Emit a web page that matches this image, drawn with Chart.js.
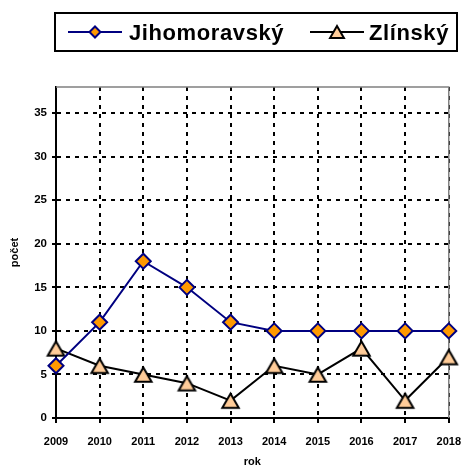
<!DOCTYPE html>
<html>
<head>
<meta charset="utf-8">
<script src="https://cdn.jsdelivr.net/npm/chart.js@4/dist/chart.umd.min.js"></script>
<style>
html,body{margin:0;padding:0;background:#fff;}
#wrap{width:473px;height:475px;position:relative;}
</style>
</head>
<body>
<div id="wrap"><canvas id="c" width="473" height="475"></canvas></div>
<script>
const years = ['2009','2010','2011','2012','2013','2014','2015','2016','2017','2018'];
const jihomoravsky = [6, 11, 18, 15, 11, 10, 10, 10, 10, 10];
const zlinsky = [8, 6, 5, 4, 2, 6, 5, 8, 2, 7];
const seriesNames = ['Jihomoravský', 'Zlínský'];
const yTitle = 'počet';
const xTitle = 'rok';
const yMax = 38;
const yStep = 5;

const FONT = "'Liberation Sans', Arial, sans-serif";

// triangle marker centred on its bounding box (as in the original)
function makeTriangle(r, fill, stroke, lw) {
  const hw = r * Math.sin(Math.PI / 3);
  const h = 1.5 * r;
  const W = Math.ceil(2 * hw + lw * 2 + 2), H = Math.ceil(h + lw * 2 + 2);
  const cv = document.createElement('canvas');
  cv.width = W; cv.height = H;
  const c = cv.getContext('2d');
  const cx = W / 2, cy = H / 2;
  c.beginPath();
  c.moveTo(cx, cy - h / 2);
  c.lineTo(cx + hw, cy + h / 2);
  c.lineTo(cx - hw, cy + h / 2);
  c.closePath();
  c.fillStyle = fill; c.fill();
  c.lineWidth = lw; c.strokeStyle = stroke; c.lineJoin = 'miter'; c.stroke();
  return cv;
}
const triBig = makeTriangle(9.5, '#FFCC99', '#000000', 2);
const triSmall = makeTriangle(8, '#FFCC99', '#000000', 2);

const legendBox = {
  id: 'legendBox',
  afterDraw(chart) {
    const ctx = chart.ctx;
    ctx.save();
    ctx.lineWidth = 2;
    ctx.strokeStyle = '#000';
    ctx.strokeRect(55, 13, 402, 38);
    const y = 32;
    const ds = chart.data.datasets;
    // item 1
    ctx.beginPath();
    ctx.lineWidth = 2;
    ctx.strokeStyle = ds[0].borderColor;
    ctx.moveTo(68, y); ctx.lineTo(122, y); ctx.stroke();
    ctx.fillStyle = ds[0].pointBackgroundColor;
    ctx.strokeStyle = ds[0].pointBorderColor;
    Chart.helpers.drawPoint(ctx, {pointStyle: 'rectRot', radius: 5.5, borderWidth: 2}, 95, y);
    // item 2
    ctx.beginPath();
    ctx.lineWidth = 2;
    ctx.strokeStyle = ds[1].borderColor;
    ctx.moveTo(310, y); ctx.lineTo(364, y); ctx.stroke();
    ctx.drawImage(triSmall, 337 - triSmall.width / 2, y - triSmall.height / 2);
    ctx.fillStyle = '#000';
    ctx.font = 'bold 22px ' + FONT;
    ctx.letterSpacing = '0.6px';
    ctx.textBaseline = 'alphabetic';
    ctx.textAlign = 'left';
    ctx.fillText(seriesNames[0], 129, 40);
    ctx.fillText(seriesNames[1], 369, 40);
    ctx.restore();
  }
};

const plotBorder = {
  id: 'plotBorder',
  beforeDatasetsDraw(chart) {
    const {ctx, chartArea: a} = chart;
    ctx.save();
    ctx.strokeStyle = '#808080';
    ctx.lineWidth = 1.5;
    ctx.beginPath();
    ctx.moveTo(a.left, a.top); ctx.lineTo(a.right, a.top); ctx.lineTo(a.right, a.bottom);
    ctx.stroke();
    ctx.restore();
  }
};

new Chart(document.getElementById('c'), {
  type: 'line',
  data: {
    labels: years,
    datasets: [
      {
        label: seriesNames[0],
        data: jihomoravsky,
        borderColor: '#000080',
        borderWidth: 2,
        pointStyle: 'rectRot',
        pointRadius: 7.5,
        pointBorderWidth: 2,
        pointBackgroundColor: '#FF9900',
        pointBorderColor: '#000080',
        tension: 0,
        fill: false
      },
      {
        label: seriesNames[1],
        data: zlinsky,
        borderColor: '#000000',
        borderWidth: 2,
        pointStyle: triBig,
        pointRadius: 9,
        pointBorderWidth: 2,
        pointBackgroundColor: '#FFCC99',
        pointBorderColor: '#000000',
        tension: 0,
        fill: false
      }
    ]
  },
  options: {
    responsive: false,
    animation: false,
    devicePixelRatio: 1,
    layout: {padding: {left: 0, top: 87, right: 15, bottom: 0}},
    plugins: {legend: {display: false}, tooltip: {enabled: false}},
    scales: {
      x: {
        type: 'category',
        offset: false,
        afterFit(s) { s.height = 57; },
        grid: {color: '#000', lineWidth: 2, tickLength: 5, tickColor: '#000', tickWidth: 2, tickBorderDash: [4, 5], drawTicks: true},
        border: {display: true, color: '#000', width: 2, dash: [4, 5]},
        ticks: {color: '#000', font: {family: FONT, size: 11, weight: 'bold'}, autoSkip: false, maxRotation: 0, padding: 12},
        title: {display: true, text: xTitle, color: '#000', font: {family: FONT, size: 11, weight: 'bold'}, padding: {top: 0, bottom: 6}}
      },
      y: {
        min: 0,
        max: yMax,
        afterFit(s) { s.width = 56; },
        grid: {color: '#000', lineWidth: 2, tickLength: 4, tickColor: '#000', tickWidth: 2, tickBorderDash: []},
        border: {display: true, color: '#000', width: 2, dash: [4, 5]},
        ticks: {stepSize: yStep, includeBounds: false, color: '#000', font: {family: FONT, size: 11.5, weight: 'bold'}, padding: 5},
        title: {display: true, text: yTitle, color: '#000', font: {family: FONT, size: 11, weight: 'bold'}, padding: {top: 8, bottom: 0}}
      }
    }
  },
  plugins: [plotBorder, legendBox]
});
</script>
</body>
</html>
